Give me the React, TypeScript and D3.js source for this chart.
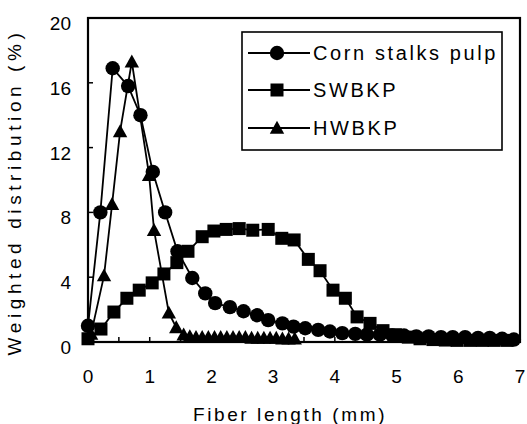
import React from "react";
import * as d3 from "d3";

const cornX = [0, 0.2, 0.4, 0.65, 0.85, 1.05, 1.25, 1.45, 1.69, 1.9, 2.06, 2.3, 2.52, 2.74, 2.92, 3.15, 3.33, 3.52, 3.73, 3.92, 4.12, 4.33, 4.52, 4.73, 4.93, 5.12, 5.32, 5.52, 5.72, 5.91, 6.11, 6.32, 6.51, 6.71, 6.9];
const cornY = [1.0, 8.0, 16.9, 15.8, 14.0, 10.5, 8.0, 5.6, 3.95, 3.0, 2.4, 2.15, 1.9, 1.65, 1.35, 1.15, 0.95, 0.85, 0.75, 0.65, 0.55, 0.5, 0.45, 0.45, 0.4, 0.4, 0.35, 0.35, 0.3, 0.3, 0.3, 0.25, 0.25, 0.2, 0.15];

const swX = [0, 0.21, 0.42, 0.63, 0.83, 1.04, 1.23, 1.44, 1.62, 1.85, 2.04, 2.24, 2.45, 2.67, 2.92, 3.14, 3.34, 3.57, 3.76, 3.97, 4.17, 4.36, 4.57, 4.78, 4.98, 5.19, 5.38, 5.59, 5.79, 5.98, 6.19, 6.39, 6.58, 6.79];
const swY = [0.2, 0.8, 1.85, 2.7, 3.2, 3.65, 4.2, 4.9, 5.6, 6.5, 6.85, 6.95, 7.0, 6.9, 6.95, 6.4, 6.3, 5.1, 4.4, 3.2, 2.7, 1.55, 1.15, 0.7, 0.45, 0.3, 0.2, 0.15, 0.12, 0.1, 0.1, 0.1, 0.1, 0.1];

const hwX = [0.05, 0.26, 0.39, 0.52, 0.71, 0.99, 1.07, 1.31, 1.43, 1.55, 1.65, 1.75, 1.85, 1.95, 2.05, 2.15, 2.25, 2.35, 2.45, 2.55, 2.65, 2.75, 2.85, 2.95, 3.05, 3.15, 3.25, 3.35];
const hwY = [0.5, 4.1, 8.5, 13.0, 17.3, 10.3, 6.9, 1.8, 0.9, 0.45, 0.35, 0.3, 0.3, 0.3, 0.3, 0.3, 0.3, 0.3, 0.3, 0.3, 0.25, 0.25, 0.25, 0.25, 0.25, 0.2, 0.2, 0.2];

const xTicks = [0, 1, 2, 3, 4, 5, 6, 7];
const xMinorTicks = [0.5, 1, 1.5, 2, 2.5, 3, 3.5, 4, 4.5, 5, 5.5, 6, 6.5];
const yTicks = [0, 4, 8, 12, 16, 20];
const seriesNames = ["Corn stalks pulp", "SWBKP", "HWBKP"];

const W = 527, H = 424;
const L = 88, R = 520, T = 18, B = 342;
const FONT = "'Liberation Sans', Arial, sans-serif";

function Marker({ kind, x, y }: { kind: string; x: number; y: number }) {
  if (kind === "circle") return <circle cx={x} cy={y} r={7.2} fill="#000" />;
  if (kind === "square") return <rect x={x - 6.5} y={y - 6.5} width={13} height={13} fill="#000" />;
  const s = 7.2;
  return <path d={`M${x},${y - s}L${x + s},${y + s * 0.8}L${x - s},${y + s * 0.8}Z`} fill="#000" />;
}

export default function App() {
  const x = d3.scaleLinear().domain([0, 7]).range([L, R]);
  const y = d3.scaleLinear().domain([0, 20]).range([B, T]);
  const line = d3.line<[number, number]>().x(d => x(d[0])).y(d => y(d[1]));

  const series = [
    { kind: "triangle", xs: hwX, ys: hwY },
    { kind: "square", xs: swX, ys: swY },
    { kind: "circle", xs: cornX, ys: cornY },
  ];

  const legend = [
    { name: seriesNames[0], kind: "circle", ly: 53 },
    { name: seriesNames[1], kind: "square", ly: 90 },
    { name: seriesNames[2], kind: "triangle", ly: 128 },
  ];

  return (
    <svg width={W} height={H} style={{ position: "absolute", left: 0, top: 0, background: "#fff" }}>
      <rect x={0} y={0} width={W} height={H} fill="#fff" />
      {series.map((s, i) => {
        const pts = s.xs.map((v, j) => [v, s.ys[j]] as [number, number]);
        return (
          <g key={i}>
            <path d={line(pts) || ""} fill="none" stroke="#000" strokeWidth={1.8} />
            {pts.map((p, j) => <Marker key={j} kind={s.kind} x={x(p[0])} y={y(p[1])} />)}
          </g>
        );
      })}
      <rect x={L} y={T} width={R - L} height={B - T} fill="none" stroke="#000" strokeWidth={2.2} />
      {xMinorTicks.map(t => (
        <line key={t} x1={x(t)} x2={x(t)} y1={B} y2={B - 5} stroke="#000" strokeWidth={1.5} />
      ))}
      {yTicks.map(t => (
        <line key={t} x1={L} x2={L + 5} y1={y(t)} y2={y(t)} stroke="#000" strokeWidth={1.5} />
      ))}
      {xTicks.map(t => (
        <text key={t} x={x(t)} y={383} textAnchor="middle" fontFamily={FONT} fontSize={19} fill="#000">{t}</text>
      ))}
      {yTicks.map(t => (
        <text key={t} x={71} y={y(t) + 12} textAnchor="end" fontFamily={FONT} fontSize={19} fill="#000">{t}</text>
      ))}
      <text x={290} y={421} textAnchor="middle" fontFamily={FONT} fontSize={19} letterSpacing={2.6} fill="#000">Fiber length (mm)</text>
      <text transform={`translate(21,192) rotate(-90)`} textAnchor="middle" fontFamily={FONT} fontSize={19} letterSpacing={4.6} fill="#000">Weighted distribution (%)</text>
      <rect x={242} y={32} width={260} height={118} fill="#fff" stroke="#000" strokeWidth={1.6} />
      {legend.map(l => (
        <g key={l.name}>
          <line x1={248} x2={310} y1={l.ly} y2={l.ly} stroke="#000" strokeWidth={1.8} />
          <Marker kind={l.kind} x={277} y={l.ly} />
          <text x={313} y={l.ly + 7} fontFamily={FONT} fontSize={20} letterSpacing={2.6} fill="#000">{l.name}</text>
        </g>
      ))}
    </svg>
  );
}
